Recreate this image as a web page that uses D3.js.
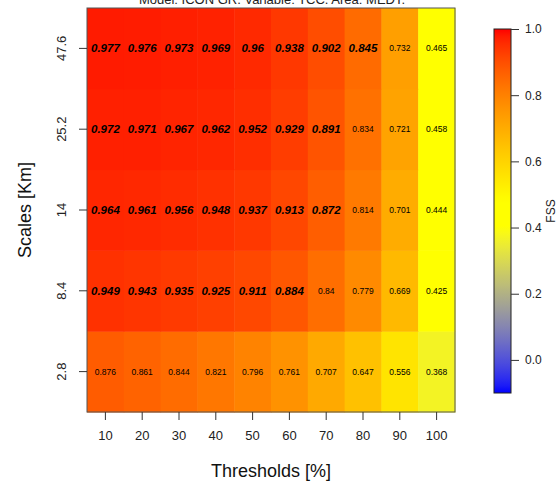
<!DOCTYPE html>
<html>
<head>
<meta charset="utf-8">
<script src="https://cdn.jsdelivr.net/npm/d3@7"></script>
<style>
  body { margin: 0; background: #fff; }
  svg { font-family: "Liberation Sans", Arial, sans-serif; }
</style>
</head>
<body>
<div id="chart"></div>
<script>
// FSS table, rows = scales (bottom to top), cols = thresholds
const thresholds = [10, 20, 30, 40, 50, 60, 70, 80, 90, 100]
const scales = ["2.8", "8.4", "14", "25.2", "47.6"]
const fss = [
    [0.876, 0.861, 0.844, 0.821, 0.796, 0.761, 0.707, 0.647, 0.556, 0.368],
    [0.949, 0.943, 0.935, 0.925, 0.911, 0.884, 0.84, 0.779, 0.669, 0.425],
    [0.964, 0.961, 0.956, 0.948, 0.937, 0.913, 0.872, 0.814, 0.701, 0.444],
    [0.972, 0.971, 0.967, 0.962, 0.952, 0.929, 0.891, 0.834, 0.721, 0.458],
    [0.977, 0.976, 0.973, 0.969, 0.96, 0.938, 0.902, 0.845, 0.732, 0.465]
]
// cells printed in bold italic in the original
const bold = [
    [0, 0, 0, 0, 0, 0, 0, 0, 0, 0],
    [1, 1, 1, 1, 1, 1, 0, 0, 0, 0],
    [1, 1, 1, 1, 1, 1, 1, 0, 0, 0],
    [1, 1, 1, 1, 1, 1, 1, 0, 0, 0],
    [1, 1, 1, 1, 1, 1, 1, 1, 0, 0]
]
const keyTicks = [0.0, 0.2, 0.4, 0.6, 0.8, 1.0]
const keyDomain = [-0.1, 1.0]
const title = "Model: ICON GR. Variable: TCC. Area: MEDT."

const W = 560, H = 482
const panel = {left: 87, right: 455, top: 8, bottom: 412}

const svg = d3.select("#chart").append("svg")
    .attr("width", W)
    .attr("height", H)

// scales
let x = d3.scaleBand().domain(thresholds).range([panel.left, panel.right])
let y = d3.scaleBand().domain(scales).range([panel.bottom, panel.top])

// blue -> yellow -> red ramp
let color = d3.scaleLinear()
    .domain([keyDomain[0], 0.40, 0.48, keyDomain[1]])
    .range(["#0000ff", "#ffff00", "#ffff00", "#ff0000"])
    .interpolate(d3.interpolateRgb.gamma(1.4))

// flatten table
let cells = []
fss.forEach((row, i) => {
    row.forEach((v, j) => {
        cells.push({scale: scales[i], thr: thresholds[j], v: v, bold: bold[i][j] === 1})
    })
})

// heat cells
svg.append("g").selectAll("rect")
    .data(cells)
    .join("rect")
    .attr("x", d => x(d.thr))
    .attr("y", d => y(d.scale))
    .attr("width", x.bandwidth() + 0.5)
    .attr("height", y.bandwidth() + 0.5)
    .attr("fill", d => color(d.v))

// values
svg.append("g").selectAll("text")
    .data(cells)
    .join("text")
    .attr("x", d => x(d.thr) + x.bandwidth() / 2)
    .attr("y", d => y(d.scale) + y.bandwidth() / 2)
    .attr("dy", "0.35em")
    .attr("text-anchor", "middle")
    .attr("font-size", d => d.bold ? "11.5px" : "8.5px")
    .attr("font-weight", d => d.bold ? "bold" : "normal")
    .attr("font-style", d => d.bold ? "italic" : "normal")
    .attr("fill", "#000")
    .text(d => d.v)

// panel frame
svg.append("rect")
    .attr("x", panel.left)
    .attr("y", panel.top)
    .attr("width", panel.right - panel.left)
    .attr("height", panel.bottom - panel.top)
    .attr("fill", "none")
    .attr("stroke", "#555")
    .attr("stroke-width", 1)

// x axis
let xAxis = svg.append("g")
    .attr("transform", `translate(0,${panel.bottom})`)
    .call(d3.axisBottom(x).tickSize(8).tickPadding(11))
xAxis.select(".domain").remove()
xAxis.selectAll("line").attr("stroke", "#333")
xAxis.selectAll("text").attr("font-size", "13px").attr("fill", "#222")
    .attr("font-family", "Liberation Sans, Arial, sans-serif")

// y axis, labels rotated
let yAxis = svg.append("g")
    .attr("transform", `translate(${panel.left},0)`)
    .call(d3.axisLeft(y).tickSize(8).tickPadding(0))
yAxis.select(".domain").remove()
yAxis.selectAll("line").attr("stroke", "#333")
yAxis.selectAll("text")
    .attr("font-size", "13px").attr("fill", "#222")
    .attr("font-family", "Liberation Sans, Arial, sans-serif")
    .attr("text-anchor", "middle")
    .attr("x", null).attr("dy", null)
    .attr("transform", "translate(-21,0) rotate(-90)")
    .attr("y", 0)

// axis titles
svg.append("text")
    .attr("x", (panel.left + panel.right) / 2)
    .attr("y", 477)
    .attr("text-anchor", "middle")
    .attr("font-size", "18px")
    .attr("fill", "#111")
    .text("Thresholds [%]")

svg.append("text")
    .attr("transform", `translate(31,${(panel.top + panel.bottom) / 2}) rotate(-90)`)
    .attr("text-anchor", "middle")
    .attr("font-size", "18px")
    .attr("fill", "#111")
    .text("Scales [Km]")

// title, partly cut at the top like the original
svg.append("text")
    .attr("x", 272)
    .attr("y", 4)
    .attr("text-anchor", "middle")
    .attr("font-size", "13px")
    .attr("fill", "#222")
    .text(title)

// colour key
let key = {left: 494, width: 17, top: 29, bottom: 393}
let ky = d3.scaleLinear().domain(keyDomain).range([key.bottom, key.top])

let defs = svg.append("defs")
let grad = defs.append("linearGradient")
    .attr("id", "keygrad")
    .attr("x1", 0).attr("y1", 1).attr("x2", 0).attr("y2", 0)
d3.range(0, 1.0001, 0.02).forEach(t => {
    let v = keyDomain[0] + t * (keyDomain[1] - keyDomain[0])
    grad.append("stop").attr("offset", t).attr("stop-color", color(v))
})

svg.append("rect")
    .attr("x", key.left)
    .attr("y", key.top)
    .attr("width", key.width)
    .attr("height", key.bottom - key.top)
    .attr("fill", "url(#keygrad)")
    .attr("stroke", "#222")
    .attr("stroke-width", 1)

let kAxis = svg.append("g")
    .attr("transform", `translate(${key.left + key.width},0)`)
    .call(d3.axisRight(ky).tickValues(keyTicks).tickFormat(d3.format(".1f")).tickSize(8).tickPadding(6))
kAxis.select(".domain").remove()
kAxis.selectAll("line").attr("stroke", "#333")
kAxis.selectAll("text").attr("font-size", "12px").attr("fill", "#222")
    .attr("font-family", "Liberation Sans, Arial, sans-serif")

svg.append("text")
    .attr("transform", `translate(555,${(key.top + key.bottom) / 2}) rotate(-90)`)
    .attr("text-anchor", "middle")
    .attr("font-size", "12px")
    .attr("fill", "#222")
    .text("FSS")
</script>
</body>
</html>
